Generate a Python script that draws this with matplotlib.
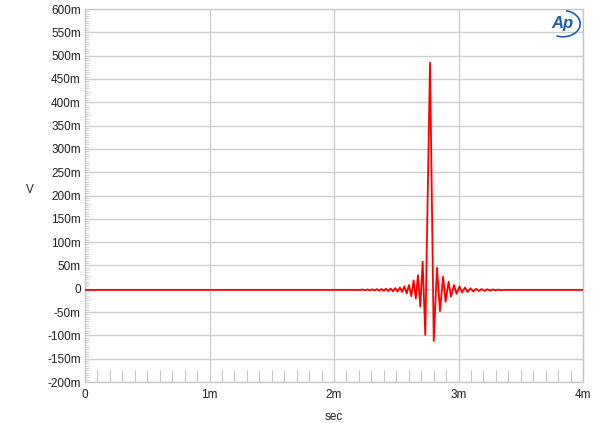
import matplotlib
matplotlib.use("Agg")
import matplotlib.pyplot as plt
from matplotlib.patches import Arc
from matplotlib.ticker import MultipleLocator

plt.rcParams['font.family'] = ['Liberation Sans', 'DejaVu Sans']

# impulse response: time in ms, level in mV
t_ms = [0.000, 2.209, 2.233, 2.251, 2.270, 2.288, 2.307, 2.325, 2.344, 2.362,
        2.381, 2.399, 2.418, 2.436, 2.455, 2.473, 2.492, 2.510, 2.529, 2.547,
        2.565, 2.584, 2.602, 2.621, 2.639, 2.657, 2.674, 2.693, 2.712, 2.733,
        2.771, 2.801, 2.827, 2.851, 2.876, 2.896, 2.920, 2.940, 2.964, 2.984,
        3.008, 3.028, 3.052, 3.073, 3.096, 3.118, 3.141, 3.163, 3.186, 3.208,
        3.231, 3.253, 3.275, 3.298, 3.320, 3.343, 3.373, 4.000]
v_mv = [-2.5, -2.5, -1.8, -3.2, -1.5, -3.5, -1.2, -3.8, -0.8, -4.2,
        -0.5, -4.6, 0.0, -5.0, 0.5, -5.5, 1.5, -6.0, 2.5, -7.0,
        5.0, -10.0, 8.0, -16.0, 18.0, -21.0, 29.0, -38.0, 58.0, -99.0,
        485.0, -112.0, 45.0, -48.0, 26.0, -28.0, 15.0, -17.0, 8.0, -11.0,
        5.0, -8.0, 2.5, -7.0, 1.0, -6.0, 0.0, -5.0, -0.5, -4.5,
        -1.0, -4.0, -1.5, -3.5, -2.0, -3.0, -2.5, -2.5]

x_ticks = [0, 1, 2, 3, 4]
x_labels = ['0', '1m', '2m', '3m', '4m']
y_ticks = list(range(-200, 601, 50))
y_labels = ['-200m', '-150m', '-100m', '-50m', '0', '50m', '100m', '150m',
            '200m', '250m', '300m', '350m', '400m', '450m', '500m', '550m', '600m']

fig = plt.figure(figsize=(6, 4.23), dpi=100)
ax = fig.add_axes([0.1417, 0.0969, 0.83, 0.8818])

ax.plot(t_ms, v_mv, color='#ff0000', lw=1.3, zorder=3)

ax.set_xlim(0, 4)
ax.set_ylim(-200, 600)
ax.set_xticks(x_ticks)
ax.set_xticklabels(x_labels)
ax.set_yticks(y_ticks)
ax.set_yticklabels(y_labels)

ax.xaxis.set_minor_locator(MultipleLocator(0.1))
ax.yaxis.set_minor_locator(MultipleLocator(5))
ax.tick_params(axis='both', which='major', length=0, labelsize=8.5, colors='#222222')
ax.tick_params(axis='x', which='major', pad=5)
ax.tick_params(axis='y', which='major', pad=3)
ax.tick_params(axis='x', which='minor', direction='in', length=8.6, width=0.8,
               color='#c8c8c8', bottom=True)
ax.tick_params(axis='y', which='minor', direction='in', length=3, width=0.6,
               color='#d0d0d0', left=True)

ax.grid(True, which='major', color='#cfcfcf', lw=1.0, zorder=1)
for s in ax.spines.values():
    s.set_color('#c8c8c8')
    s.set_linewidth(1.0)

ax.set_xlabel('sec', fontsize=8.5, labelpad=7, color='#222222')
ax.set_ylabel('V', fontsize=8.5, rotation=0, color='#222222')
ax.yaxis.set_label_coords(-0.110, 0.5)

# AP logo
fig.text(0.938, 0.944, 'Ap', fontsize=12, fontstyle='italic', fontweight='bold',
         color='#1f5fa8', ha='center', va='center')
logo = Arc((0.938, 0.944), 0.058, 0.062, angle=0, theta1=-110, theta2=80,
           transform=fig.transFigure, color='#1f5fa8', lw=1.2)
fig.add_artist(logo)

fig.savefig('out.png', dpi=100)
